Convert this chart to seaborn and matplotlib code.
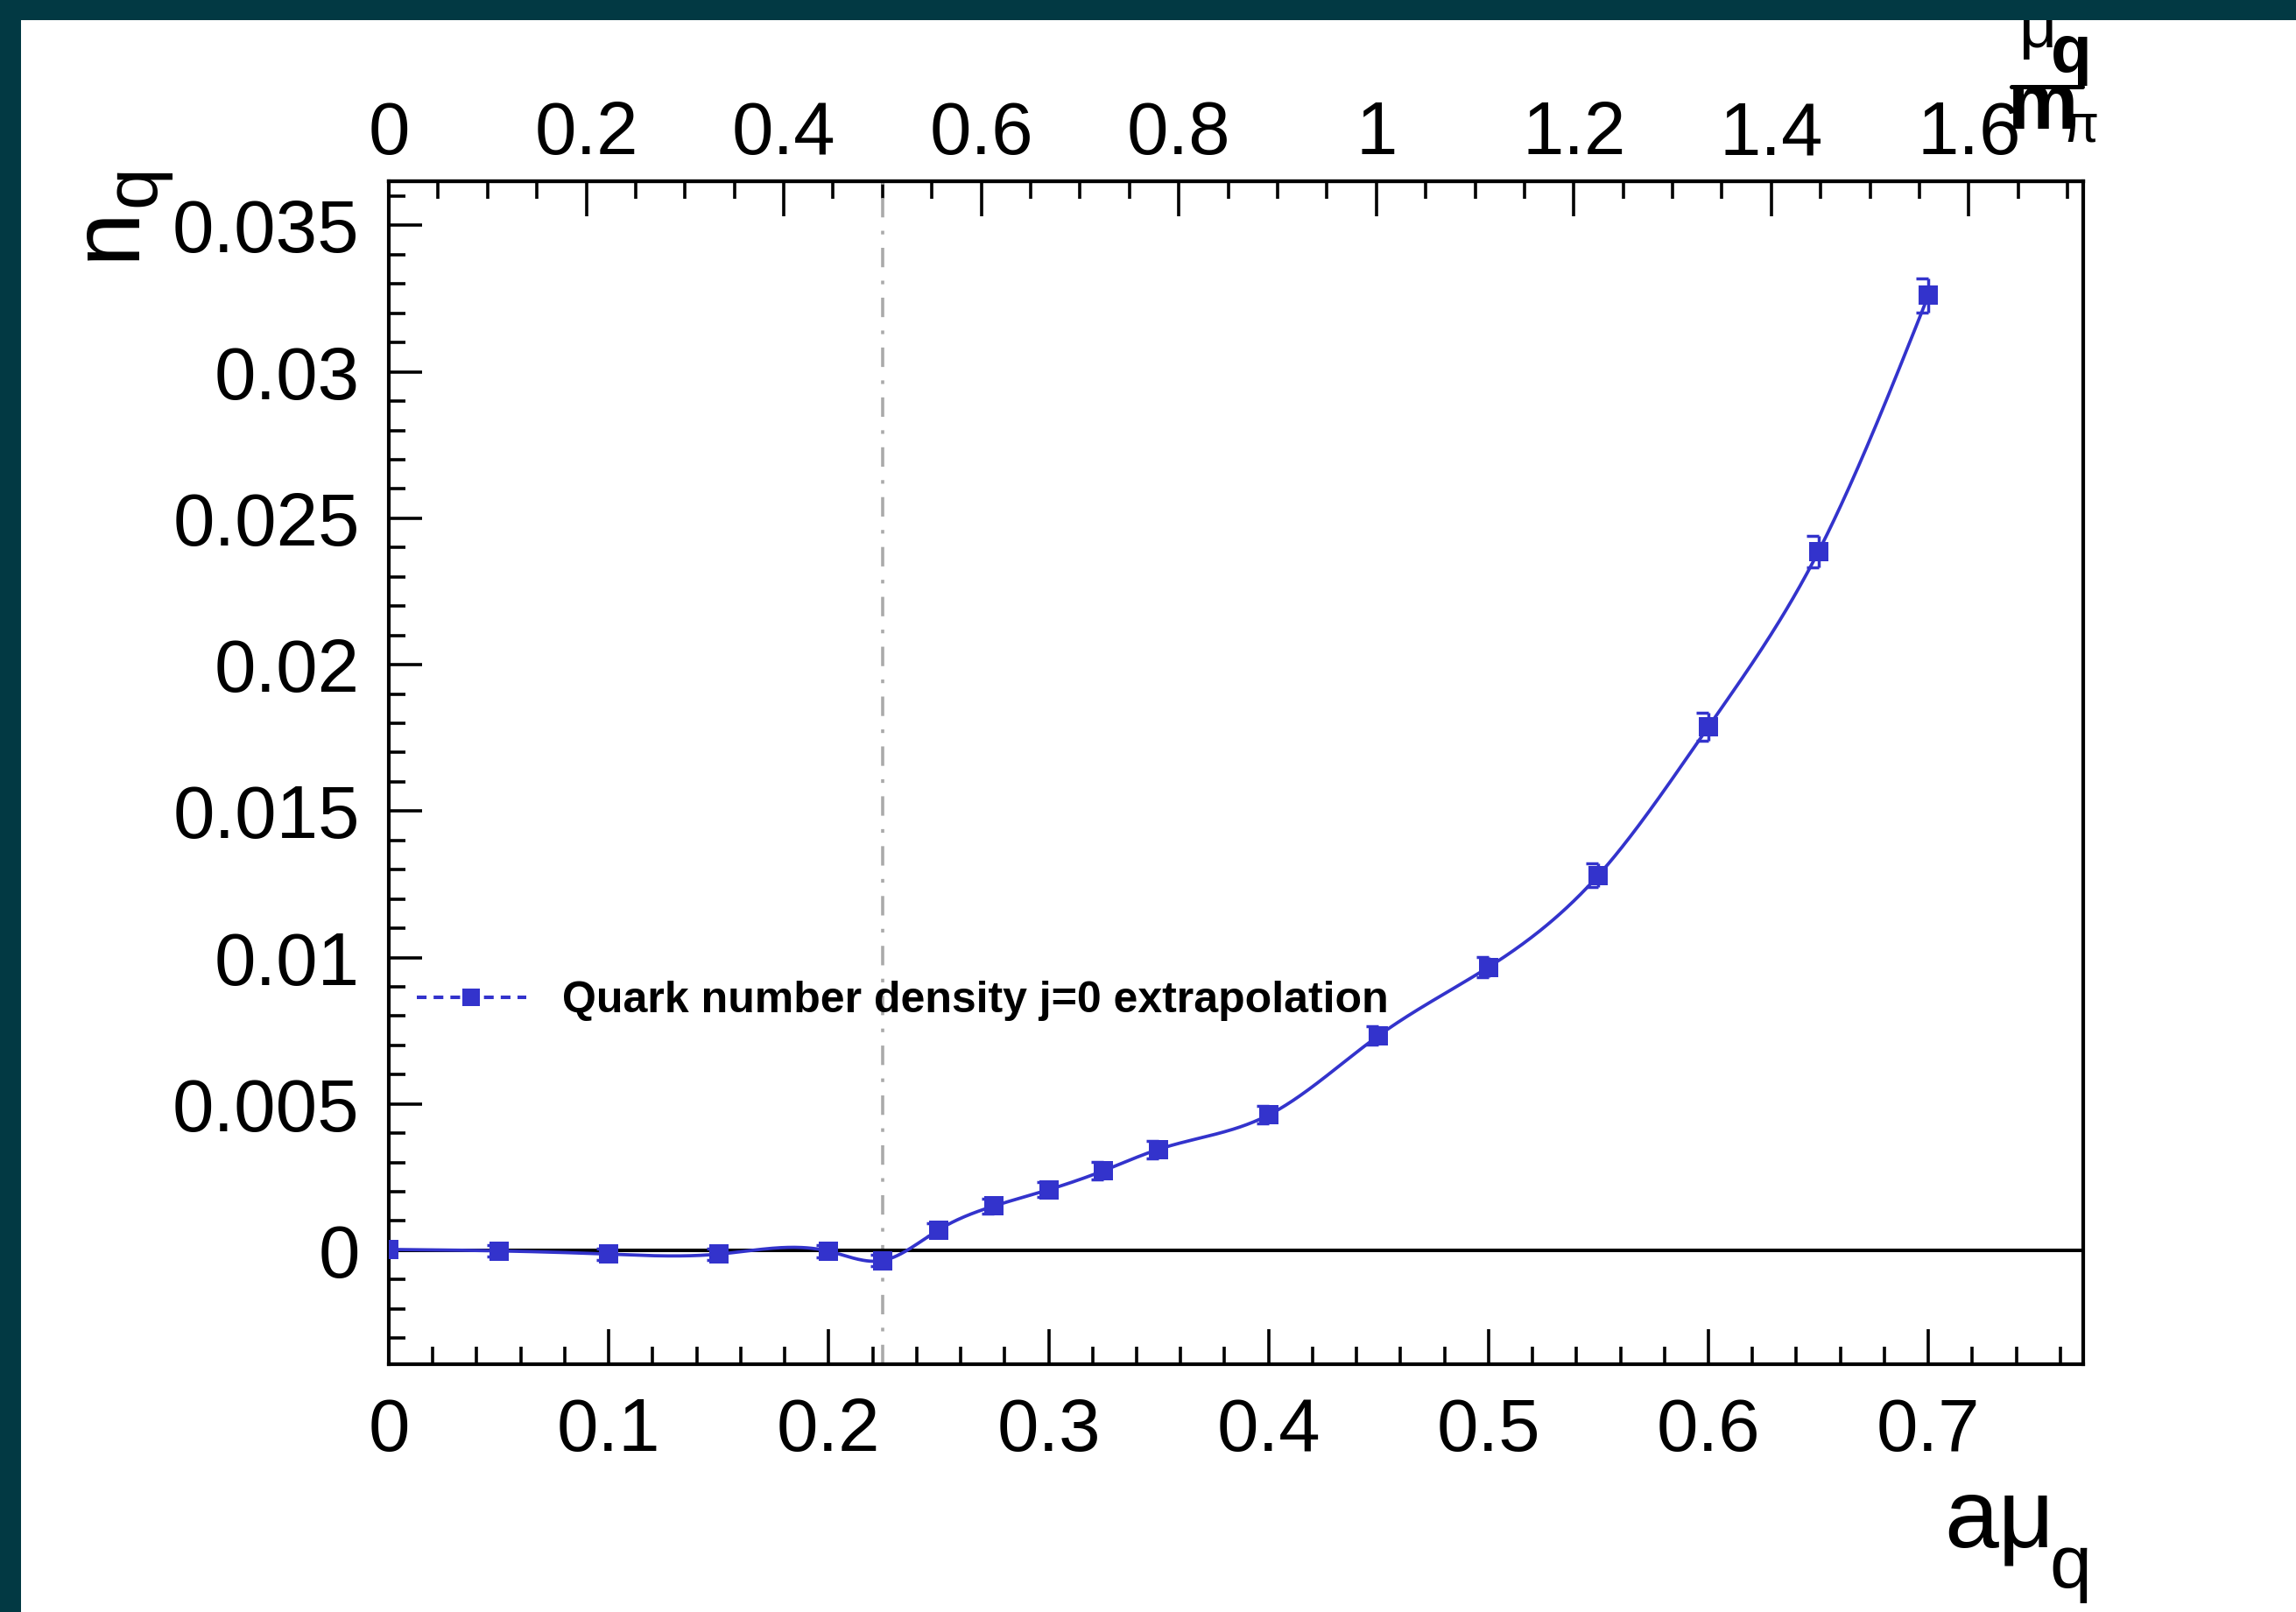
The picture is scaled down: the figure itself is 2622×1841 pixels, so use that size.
import numpy as np
import matplotlib
matplotlib.use("Agg")
import matplotlib.pyplot as plt
import seaborn as sns
from matplotlib.lines import Line2D
from matplotlib.markers import MarkerStyle
from matplotlib.path import Path
from matplotlib.patches import Rectangle
from matplotlib.ticker import MultipleLocator

# ---------------- data ----------------
A_MPI = 0.449  # a*m_pi, ratio between bottom and top axes

mu = [0.0, 0.05, 0.10, 0.15, 0.20, 0.2245, 0.25, 0.275, 0.30, 0.325, 0.35,
      0.40, 0.45, 0.50, 0.55, 0.60, 0.65, 0.70]
nq = [0.00003, -0.00002, -0.00013, -0.00013, -0.00003, -0.00035, 0.00070,
      0.00151, 0.00207, 0.00272, 0.00345, 0.00462, 0.00733, 0.00967,
      0.01281, 0.01788, 0.02386, 0.03261]
nq_err = [0.0002, 0.0002, 0.0002, 0.0002, 0.0002, 0.0002, 0.00022, 0.00025,
          0.00025, 0.0003, 0.0003, 0.0003, 0.00032, 0.00035, 0.0004, 0.00047,
          0.00053, 0.00059]

x_major = [0.0, 0.1, 0.2, 0.3, 0.4, 0.5, 0.6, 0.7]
x_labels = ["0", "0.1", "0.2", "0.3", "0.4", "0.5", "0.6", "0.7"]
y_major = [0.0, 0.005, 0.01, 0.015, 0.02, 0.025, 0.03, 0.035]
y_labels = ["0", "0.005", "0.01", "0.015", "0.02", "0.025", "0.03", "0.035"]
top_major = [0.0, 0.2, 0.4, 0.6, 0.8, 1.0, 1.2, 1.4, 1.6]
top_labels = ["0", "0.2", "0.4", "0.6", "0.8", "1", "1.2", "1.4", "1.6"]
legend_label = "Quark number density j=0 extrapolation"

# ---------------- style ----------------
W, H, DPI = 2622, 1841, 100
BLUE = "#3333CC"
TEAL = "#023943"
LW_TICK = 2.6

sns.set_theme(style="ticks", rc={"axes.edgecolor": "black", "text.color": "black",
                                 "xtick.color": "black", "ytick.color": "black",
                                 "axes.labelcolor": "black"})
plt.rcParams["font.family"] = ["Liberation Sans", "DejaVu Sans"]
plt.rcParams["lines.scale_dashes"] = False


def fx(px):
    return px / W


def fy(py):
    return 1 - py / H


def natural_spline(x, y, xs):
    x = np.asarray(x, float)
    y = np.asarray(y, float)
    n = len(x)
    h = np.diff(x)
    A = np.zeros((n, n))
    r = np.zeros(n)
    A[0, 0] = 1
    A[-1, -1] = 1
    for i in range(1, n - 1):
        A[i, i - 1] = h[i - 1]
        A[i, i] = 2 * (h[i - 1] + h[i])
        A[i, i + 1] = h[i]
        r[i] = 3 * ((y[i + 1] - y[i]) / h[i] - (y[i] - y[i - 1]) / h[i - 1])
    c = np.linalg.solve(A, r)
    b = (y[1:] - y[:-1]) / h - h * (2 * c[:-1] + c[1:]) / 3
    d = (c[1:] - c[:-1]) / (3 * h)
    idx = np.clip(np.searchsorted(x, xs) - 1, 0, n - 2)
    dx = xs - x[idx]
    return y[idx] + b[idx] * dx + c[idx] * dx ** 2 + d[idx] * dx ** 3


fig = plt.figure(figsize=(W / DPI, H / DPI), dpi=DPI, facecolor="white")
ax = fig.add_axes([444 / W, 1 - 1558 / H, 1935 / W, 1351 / H])
ax.set_facecolor("white")

# smooth curve through the points
xs = np.linspace(mu[0], mu[-1], 900)
ys = natural_spline(mu, nq, xs)
sns.lineplot(x=xs, y=ys, ax=ax, color=BLUE, lw=2.7, sort=False,
             estimator=None, zorder=3)

# error bars with left-pointing bracket caps
eb = ax.errorbar(mu, nq, yerr=nq_err, fmt="none", ecolor=BLUE, elinewidth=2.5,
                 capsize=10, capthick=2.5, zorder=4)
cap_marker = MarkerStyle(Path([(-1.0, 0.0), (0.0, 0.0)]))
for cl in eb[1]:
    cl.set_marker(cap_marker)
    cl.set_markersize(20)
    cl.set_markeredgewidth(2.5)
    cl.set_markeredgecolor(BLUE)

sns.scatterplot(x=mu, y=nq, ax=ax, marker="s", s=250, color=BLUE,
                linewidth=0, zorder=5, legend=False)

ax.axhline(0, color="black", lw=2.9, zorder=2)
ax.axvline(A_MPI / 2, color="#aaaaaa", lw=2.6, ls=(0, (16, 11, 3, 11)), zorder=1)

ax.set_xlim(0, 0.7704)
ax.set_ylim(-0.00389, 0.03651)

ax.set_xticks(x_major, x_labels)
ax.xaxis.set_minor_locator(MultipleLocator(0.02))
ax.set_yticks(y_major, y_labels)
ax.yaxis.set_minor_locator(MultipleLocator(0.001))

ax.tick_params(axis="x", which="major", direction="in", length=28.8, width=LW_TICK,
               labelsize=61.5, pad=27, top=False, bottom=True)
ax.tick_params(axis="x", which="minor", direction="in", length=14.4, width=LW_TICK,
               top=False, bottom=True)
ax.tick_params(axis="y", which="major", direction="in", length=27.4, width=LW_TICK,
               labelsize=61.5, pad=24, right=False, left=True)
ax.tick_params(axis="y", which="minor", direction="in", length=13.7, width=LW_TICK,
               right=False, left=True)
for s in ax.spines.values():
    s.set_visible(True)
    s.set_linewidth(3.0)
    s.set_color("black")

sec = ax.secondary_xaxis("top", functions=(lambda x: x / A_MPI, lambda m: m * A_MPI))
sec.set_xticks(top_major, top_labels)
sec.xaxis.set_minor_locator(MultipleLocator(0.05))
sec.tick_params(which="major", direction="in", length=28.8, width=LW_TICK,
                labelsize=61.5, pad=9)
sec.tick_params(which="minor", direction="in", length=14.4, width=LW_TICK)
sec.spines["top"].set_linewidth(3.0)

# axis titles
ax.set_xlabel("aμ", fontsize=80)
ax.xaxis.set_label_coords(fx(2220), fy(1767), transform=fig.transFigure)
ax.xaxis.label.set(ha="left", va="baseline")
fig.text(fx(2340), fy(1813), "q", fontsize=62, ha="left", va="baseline")

ax.set_ylabel("n", fontsize=80)
ax.yaxis.set_label_coords(fx(153), fy(297), transform=fig.transFigure)
ax.yaxis.label.set(ha="left", va="baseline", rotation_mode="anchor")
fig.text(fx(176), fy(236), "q", fontsize=62, rotation=90, rotation_mode="anchor",
         ha="left", va="baseline")

# top axis title  mu_q / m_pi
fig.text(fx(2306), fy(54), "μ", fontsize=54, ha="left", va="baseline")
fig.text(fx(2342), fy(82), "q", fontsize=55, fontweight="bold", ha="left", va="baseline")
fig.add_artist(Line2D([fx(2297), fx(2378)], [fy(99), fy(99)], color="black",
                      lw=3.6, transform=fig.transFigure))
fig.text(fx(2293), fy(147), "m", fontsize=65, fontweight="bold", ha="left", va="baseline")
fig.text(fx(2355), fy(162), "π", fontsize=44, ha="left", va="baseline")

# legend
handle = Line2D([0], [0], color=BLUE, lw=2.9, ls=(0, (8, 5.8)), marker="s",
                ms=14, mew=0)
ax.legend(handles=[handle], labels=[legend_label], loc="center left",
          bbox_to_anchor=(0.0165, 0.307), frameon=False,
          prop={"family": ["Liberation Sans"], "weight": "bold", "size": 36},
          handlelength=2.5, handletextpad=0.83, borderpad=0, borderaxespad=0)

# dark frame strips (left and top)
fig.add_artist(Rectangle((0, 0), fx(24), 1, transform=fig.transFigure,
                         color=TEAL, zorder=10, lw=0))
fig.add_artist(Rectangle((0, fy(23)), 1, 23 / H, transform=fig.transFigure,
                         color=TEAL, zorder=10, lw=0))

fig.savefig("out.png", dpi=DPI, facecolor="white")
